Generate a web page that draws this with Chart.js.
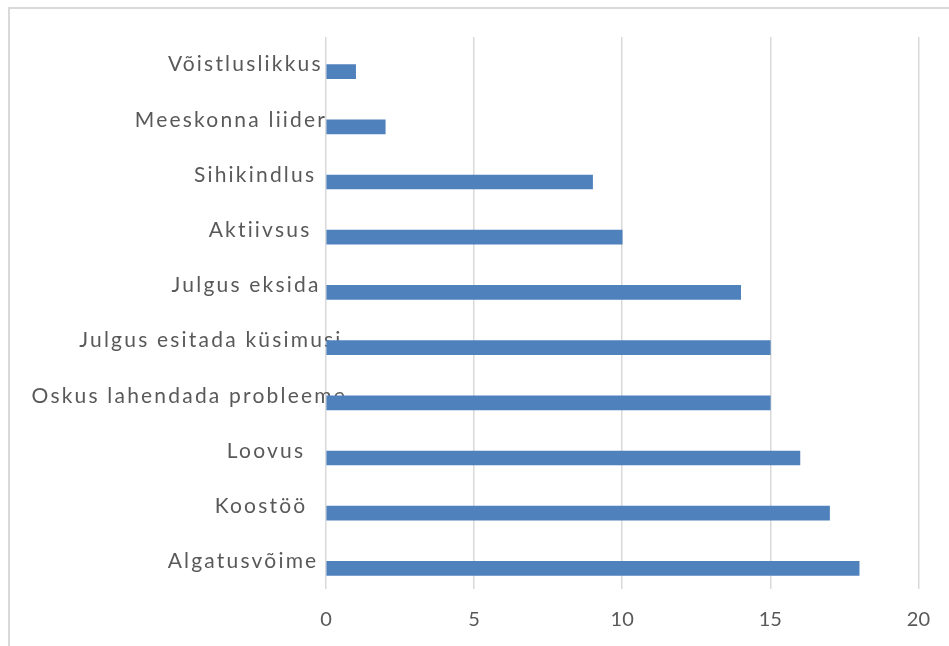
<!DOCTYPE html>
<html>
<head>
<meta charset="utf-8">
<script src="https://cdn.jsdelivr.net/npm/chart.js@4"></script>
<style>
  html, body { margin: 0; padding: 0; background: #fff; overflow: hidden; }
  #raam { position: absolute; left: 8px; top: 7px; width: 2000px; height: 2000px;
          border-left: 2px solid #d9d9d9; border-top: 2px solid #d9d9d9; }
  #wrap { position: absolute; left: 0; top: 0; width: 949px; height: 646px; }
</style>
</head>
<body>
<div id="raam"></div>
<div id="wrap"><canvas id="omadusedChart"></canvas></div>
<script>
// kategooriad ülevalt alla
const kategooriad = ['Võistluslikkus', 'Meeskonna liider', 'Sihikindlus', 'Aktiivsus', 'Julgus eksida',
    'Julgus esitada küsimusi', 'Oskus lahendada probleeme', 'Loovus', 'Koostöö', 'Algatusvõime'];
const vaartused = [1, 2, 9, 10, 14, 15, 15, 16, 17, 18];
// tühi seeria (Excelis oli teine, tühi rida)
const tuhiSeeria = [null, null, null, null, null, null, null, null, null, null];
const xTelg = { min: 0, max: 20, samm: 5 };

const hall = '#595959';
const vahe = 2.2;

// Excel paigutab sildi ilma tähevaheta laiuse järgi, aga joonistab vahega,
// seega pikad sildid ulatuvad telje peale
const tahevahe = {
    id: 'tahevahe',
    afterLayout(chart) {
        const y = chart.scales.y;
        if (y._vaheOk) return;
        const orig = y.drawLabels;
        y._computeLabelArea = () => undefined; // ära lõika silte telje servas
        y.drawLabels = function (area) {
            const c = this.ctx;
            const items = this.getLabelItems(area);
            items.forEach(item => {
                if (item._nihutatud) return;
                c.save();
                c.font = item.font.string;
                c.letterSpacing = '0px';
                const w = c.measureText(item.label).width;
                c.restore();
                item.options.textAlign = 'left';
                item.options.translation[0] = this.right - 34 - w;
                item._nihutatud = true;
            });
            c.save();
            c.letterSpacing = vahe + 'px';
            orig.call(this, area);
            c.restore();
        };
        y._vaheOk = true;
    }
};

const ctx = document.getElementById('omadusedChart').getContext('2d');
new Chart(ctx, {
    type: 'bar',
    data: {
        labels: kategooriad,
        datasets: [{
            label: 'tühi',
            data: tuhiSeeria,
            backgroundColor: 'rgba(0,0,0,0)',
            barThickness: 14
        }, {
            label: 'Omadused',
            data: vaartused,
            backgroundColor: '#4F81BD',
            borderWidth: 0,
            barThickness: 14
        }]
    },
    options: {
        indexAxis: 'y',
        responsive: true,
        maintainAspectRatio: false,
        animation: false,
        layout: { padding: { left: 0, top: 37, right: 30.5, bottom: 0 } },
        plugins: {
            legend: { display: false },
            tooltip: { enabled: false }
        },
        scales: {
            x: {
                min: xTelg.min,
                max: xTelg.max,
                afterFit(scale) { scale.height = 57; },
                ticks: {
                    stepSize: xTelg.samm,
                    color: hall,
                    padding: 19,
                    font: { family: 'Lato', size: 20 }
                },
                grid: { color: '#d9d9d9', lineWidth: 1.5, drawTicks: false },
                border: { display: false }
            },
            y: {
                z: 1,
                afterFit(scale) { scale.width = 326; },
                ticks: {
                    color: hall,
                    padding: 0,
                    font: { family: 'Lato', size: 21 }
                },
                grid: { display: false },
                border: { display: false }
            }
        }
    },
    plugins: [tahevahe]
});
</script>
</body>
</html>
